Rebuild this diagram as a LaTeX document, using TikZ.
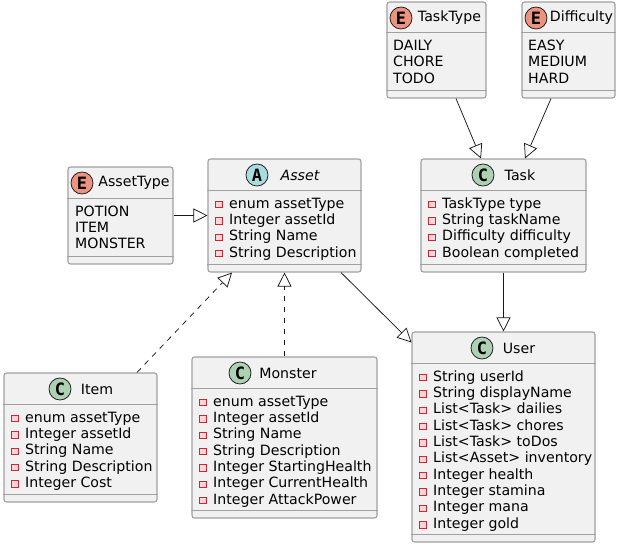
\documentclass[tikz,border=0pt]{standalone}
\usepackage{fontspec}
\setmainfont{DejaVu Sans}
\newfontfamily\iconfont{DejaVu Sans Mono}
\usetikzlibrary{arrows.meta}

\definecolor{boxfill}{HTML}{F1F1F1}
\definecolor{boxline}{HTML}{A0A0A0}
\definecolor{linkline}{HTML}{181818}
\definecolor{markline}{HTML}{C82930}
\definecolor{markfill}{HTML}{F7D5D8}
\definecolor{enumfill}{HTML}{EB937F}
\definecolor{absfill}{HTML}{A9DCDF}
\definecolor{classfill}{HTML}{ADD1B2}

\tikzset{
    classbox/.style={rectangle, rounded corners=2.5pt, draw=boxline, fill=boxfill, line width=1.1pt, inner sep=0pt},
    sepline/.style={draw=boxline, line width=1.1pt},
    icon/.style={circle, draw=linkline, line width=0.75pt, minimum size=22pt, inner sep=0pt, font=\iconfont\bfseries\fontsize{17}{17}\selectfont},
    title/.style={inner sep=0pt, font=\fontsize{14.15}{16}\selectfont},
    member/.style={anchor=west, inner sep=0pt, text height=10pt, text depth=3pt, font=\fontsize{14.15}{16}\selectfont},
    markbox/.style={rectangle, draw=markline, fill=markfill, line width=0.8pt, minimum size=6.5pt, inner sep=0pt},
    extends/.style={draw=linkline, line width=0.75pt, -{Triangle[open, fill=white, length=14pt, width=14pt]}},
    implements/.style={extends, dash pattern=on 5.5pt off 5.5pt}
}

% separators under the title and above the empty method part
\newcommand{\boxseps}[2]{
    \draw[sepline] ([yshift=-#2]#1.north west) -- ([yshift=-#2]#1.north east);
    \draw[sepline] ([yshift=8pt]#1.south west) -- ([yshift=8pt]#1.south east);
}
\newcommand{\enumrows}[4]{
    \foreach \txt [count=\i] in {#4} {
        \node[member] (#1\i) at (#2,{#3+16.35*(\i-1)}) {\txt};
    }
}
\newcommand{\memberrows}[4]{
    \foreach \txt [count=\i] in {#4} {
        \node[markbox] (#1m\i) at (#2-10,{#3+16.35*(\i-1)}) {};
        \node[member] (#1\i) at (#2,{#3+16.35*(\i-1)}) {\txt};
    }
}

\begin{document}
\begin{tikzpicture}[x=1pt,y=-1pt]
    \useasboundingbox (0,0) rectangle (620,548);

    \node[classbox, minimum width=105pt, minimum height=97pt] (assettype) at (120.5,215.5) {};
    \node[classbox, minimum width=153pt, minimum height=113pt] (asset) at (284.5,215.5) {};
    \node[classbox, minimum width=99pt, minimum height=96pt] (tasktype) at (436.5,50) {};
    \node[classbox, minimum width=93pt, minimum height=96pt] (difficulty) at (568.5,50) {};
    \node[classbox, minimum width=165pt, minimum height=113pt] (task) at (503.5,215.5) {};
    \node[classbox, minimum width=183pt, minimum height=210pt] (user) at (503.5,437) {};
    \node[classbox, minimum width=153pt, minimum height=129pt] (item) at (80.5,437.5) {};
    \node[classbox, minimum width=185pt, minimum height=161pt] (monster) at (284.5,437.5) {};

    \boxseps{assettype}{32pt}
    \boxseps{asset}{32pt}
    \boxseps{tasktype}{31pt}
    \boxseps{difficulty}{31pt}
    \boxseps{task}{32pt}
    \boxseps{user}{32pt}
    \boxseps{item}{32pt}
    \boxseps{monster}{32pt}

    \node[icon, fill=enumfill] (assettypeicon) at (82,183) {E};
    \node[title] (assettypetitle) at (134,183) {AssetType};
    \node[icon, fill=absfill] (asseticon) at (257,175) {A};
    \node[title, font=\fontsize{14.15}{16}\selectfont\itshape] (assettitle) at (300,175) {Asset};
    \node[icon, fill=enumfill] (tasktypeicon) at (401,18) {E};
    \node[title] (tasktypetitle) at (449.5,18) {TaskType};
    \node[icon, fill=enumfill] (difficultyicon) at (536,18) {E};
    \node[title] (difficultytitle) at (581.5,18) {Difficulty};
    \node[icon, fill=classfill] (taskicon) at (483,175) {C};
    \node[title] (tasktitle) at (520,175) {Task};
    \node[icon, fill=classfill] (usericon) at (482,348) {C};
    \node[title] (usertitle) at (519,348) {User};
    \node[icon, fill=classfill] (itemicon) at (60,389) {C};
    \node[title] (itemtitle) at (97,389) {Item};
    \node[icon, fill=classfill] (monstericon) at (240,373) {C};
    \node[title] (monstertitle) at (288,373) {Monster};

    \enumrows{assettyperow}{75}{212.5}{POTION,ITEM,MONSTER}
    \enumrows{tasktyperow}{393}{47}{DAILY,CHORE,TODO}
    \enumrows{difficultyrow}{528}{47}{EASY,MEDIUM,HARD}
    \memberrows{assetrow}{229}{204.5}{enum assetType,Integer assetId,String Name,String Description}
    \memberrows{taskrow}{442}{204.5}{TaskType type,String taskName,Difficulty difficulty,Boolean completed}
    \memberrows{userrow}{433}{377.5}{String userId,String displayName,List<Task> dailies,List<Task> chores,List<Task> toDos,List<Asset> inventory,Integer health,Integer stamina,Integer mana,Integer gold}
    \memberrows{itemrow}{25}{418.5}{enum assetType,Integer assetId,String Name,String Description,Integer Cost}
    \memberrows{monsterrow}{213}{402.5}{enum assetType,Integer assetId,String Name,String Description,Integer StartingHealth,Integer CurrentHealth,Integer AttackPower}

    \path[extends] (assettype.east) -- (asset.west);
    \path[extends] ([xshift=19.5pt]tasktype.south) -- ([xshift=-22.5pt]task.north);
    \path[extends] ([xshift=-17.5pt]difficulty.south) -- ([xshift=21.5pt]task.north);
    \path[extends] (task.south) -- (user.north);
    \path[extends] ([xshift=56.5pt]asset.south) -- ([yshift=-11pt]user.north west);
    \path[implements] ([xshift=56.5pt]item.north) -- ([xshift=-52.5pt]asset.south);
    \path[implements] (monster.north) -- (asset.south);
\end{tikzpicture}
\end{document}
